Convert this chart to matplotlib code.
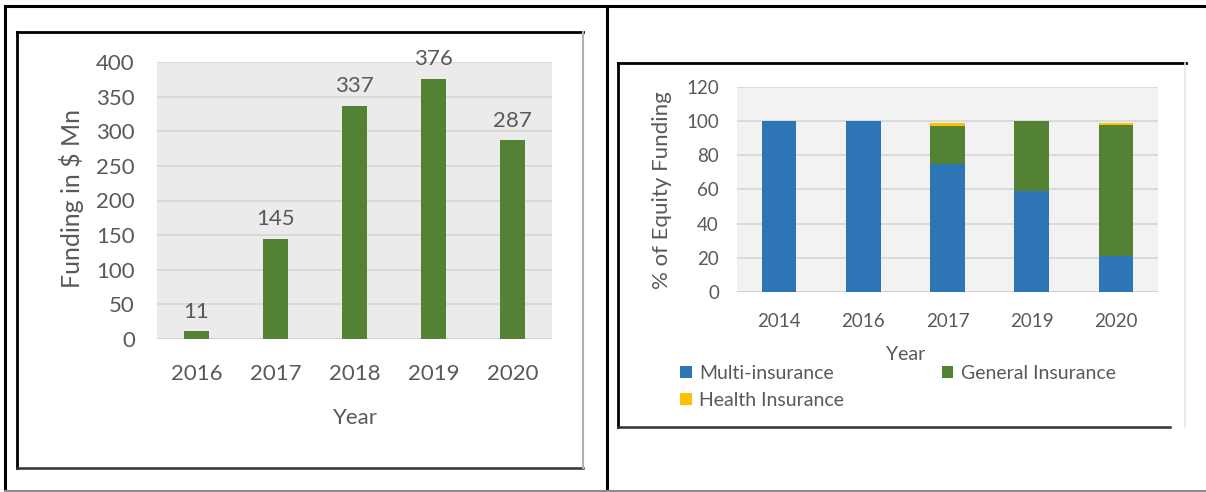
import matplotlib.pyplot as plt
from matplotlib.lines import Line2D

# Funding totals per year
fund_years = ['2016', '2017', '2018', '2019', '2020']
fund_values = [11, 145, 337, 376, 287]

# Share of equity funding by segment (%)
share_years = ['2014', '2016', '2017', '2019', '2020']
multi_ins = [100, 100, 75, 59, 21]
general_ins = [0, 0, 22, 41, 77]
health_ins = [0, 0, 2, 0, 1]

plt.rcParams['font.family'] = ['Lato', 'DejaVu Sans']
W, H = 1206, 492
TXT = '#595959'
GREEN = '#548235'
BLUE = '#2E75B6'
YELLOW = '#FFC000'

fig = plt.figure(figsize=(W / 100, H / 100), dpi=100)


def px_axes(x0, y0, x1, y1):
    # axes from pixel box (top-left origin)
    return fig.add_axes([x0 / W, 1 - y1 / H, (x1 - x0) / W, (y1 - y0) / H])


def px_line(xs, ys, color='black', lw=2.0):
    fig.add_artist(Line2D([x / W for x in xs], [1 - y / H for y in ys],
                          color=color, lw=lw, transform=fig.transFigure))


def px_text(x, y, s, **kw):
    fig.text(x / W, 1 - y / H, s, ha='center', va='center', color=TXT, **kw)


# table borders
px_line([5, 1206], [6, 6], lw=2.2)
px_line([5, 5], [6, 491], lw=2.2)
px_line([607, 607], [6, 491], lw=2.2)
px_line([5, 1206], [491, 491], color='#8c8c8c', lw=1.5)

# left picture frame
px_line([17, 583], [32, 32], lw=2.0)
px_line([17, 17], [32, 468], lw=2.0)
px_line([17, 583], [468, 468], color='#333333', lw=1.8)
px_line([583, 583], [32, 468], color='#b0b0b0', lw=1.5)

# right picture frame
px_line([618, 1186], [63, 63], lw=2.0)
px_line([618, 618], [63, 427], lw=2.0)
px_line([618, 1170], [427, 427], color='#333333', lw=1.8)
px_line([1185, 1185], [63, 427], color='#e6e6e6', lw=1.2)


def style_axes(ax, ymax, step, fs, ypad, xpad):
    ax.set_ylim(0, ymax)
    ax.set_xlim(-0.5, 4.5)
    ax.set_yticks(range(0, ymax + 1, step))
    ax.grid(axis='y', color='#D6D6D6', lw=1.2)
    ax.set_axisbelow(True)
    for s in ax.spines.values():
        s.set_visible(False)
    ax.axhline(0, color='#D0D0D0', lw=1.2, zorder=1)
    ax.tick_params(length=0, labelsize=fs, labelcolor=TXT)
    ax.tick_params(axis='y', pad=ypad)
    ax.tick_params(axis='x', pad=xpad)


# left: funding in $ Mn
ax1 = px_axes(157, 62, 552, 339)
ax1.set_facecolor('#EBEBEB')
bars = ax1.bar(fund_years, fund_values, width=0.32, color=GREEN, zorder=2)
style_axes(ax1, 400, 50, 16, 16, 18)
for b, v in zip(bars, fund_values):
    ax1.annotate(str(v), (b.get_x() + b.get_width() / 2, v), xytext=(0, 7),
                 textcoords='offset points', ha='center', va='bottom',
                 fontsize=16, color=TXT)
px_text(72, 198, 'Funding in $ Mn', fontsize=18, rotation=90)
px_text(355, 418, 'Year', fontsize=16)

# right: % of equity funding, stacked
ax2 = px_axes(737, 87, 1158, 292)
ax2.set_facecolor('#F2F2F2')
b1 = ax2.bar(share_years, multi_ins, width=0.41, color=BLUE, zorder=2)
base = [m + g for m, g in zip(multi_ins, general_ins)]
b2 = ax2.bar(share_years, general_ins, width=0.41, bottom=multi_ins,
             color=GREEN, zorder=2)
b3 = ax2.bar(share_years, health_ins, width=0.41, bottom=base,
             color=YELLOW, zorder=2)
style_axes(ax2, 120, 20, 13.5, 13, 15)
px_text(662, 190, '% of Equity Funding', fontsize=16, rotation=90)
px_text(906, 354, 'Year', fontsize=14)

leg = fig.legend([b1, b3, b2], ['Multi-insurance', 'Health Insurance', 'General Insurance'],
                 ncol=2, loc='upper left', bbox_to_anchor=(680 / W, 1 - 365 / H),
                 frameon=False, fontsize=14, handlelength=0.6, handleheight=0.6,
                 handletextpad=0.4, columnspacing=5.0, labelspacing=0.5,
                 borderaxespad=0, borderpad=0)
for t in leg.get_texts():
    t.set_color(TXT)

fig.savefig('out.png', dpi=100)
